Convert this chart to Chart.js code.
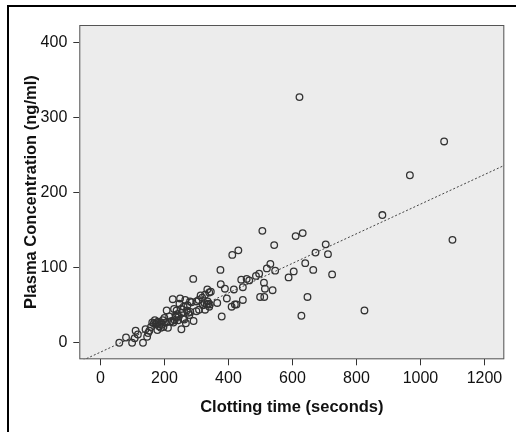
<!DOCTYPE html>
<html>
<head>
<meta charset="utf-8">
<script src="https://cdn.jsdelivr.net/npm/chart.js@4"></script>
<style>
  html, body { margin: 0; padding: 0; background: #fff; }
  #wrap { width: 520px; height: 432px; position: relative; }
</style>
</head>
<body>
<div id="wrap"><canvas id="chart" width="520" height="432"></canvas></div>
<script>
// clotting time (s) and plasma concentration (ng/ml)
const clotTime = [59, 80, 99, 107, 110, 117, 133, 141, 146, 149, 153, 158, 162, 167, 170, 172, 176, 178, 180, 183,
    186, 189, 190, 192, 195, 197, 200, 205, 207, 211, 215, 218, 223, 226, 228, 230, 232, 235, 236, 238,
    240, 243, 245, 247, 249, 252, 253, 254, 258, 260, 262, 265, 267, 270, 272, 275, 278, 280, 281, 285,
    291, 290, 300, 300, 307, 308, 313, 318, 320, 325, 327, 327, 332, 334, 335, 337, 340, 340, 342, 345,
    365, 375, 376, 379, 389, 395, 410, 412, 417, 420, 425, 431, 440, 445, 445, 457, 465, 486, 496, 499,
    506, 511, 512, 514, 520, 531, 538, 543, 546, 588, 604, 610, 622, 628, 632, 640, 647, 665, 672, 704,
    711, 724, 825, 881, 967, 1074, 1100];
const plasmaConc = [0, 7, 0, 6, 16, 11, 0, 18, 8, 13, 16, 21, 27, 26, 30, 25, 27, 17, 28, 22,
    25, 20, 27, 24, 30, 21, 33, 27, 43, 20, 35, 28, 29, 58, 27, 45, 30, 36, 34, 43,
    38, 30, 35, 52, 59, 45, 18, 40, 32, 48, 31, 57, 26, 43, 50, 40, 37, 55, 41, 54,
    29, 85, 42, 55, 57, 44, 63, 60, 50, 53, 44, 64, 51, 71, 55, 52, 48, 67, 51, 68,
    53, 97, 78, 35, 72, 59, 48, 117, 71, 51, 51, 123, 84, 74, 57, 85, 83, 89, 92, 61,
    149, 80, 61, 72, 99, 105, 70, 130, 96, 87, 95, 142, 327, 36, 146, 106, 61, 97, 120, 131,
    118, 91, 43, 170, 223, 268, 137];

// linear fit drawn as dotted line
const fitIntercept = -12.5;
const fitSlope = 0.197;
const xTicks = [0, 200, 400, 600, 800, 1000, 1200];
const yTicks = [0, 100, 200, 300, 400];
const xMin = -66, xMax = 1262, yMin = -22, yMax = 423;

const points = clotTime.map((t, i) => ({ x: t, y: plasmaConc[i] }));
const fitLine = [xMin, xMax].map(t => ({ x: t, y: fitIntercept + fitSlope * t }));

const frame = {
    id: 'frame',
    beforeDraw(chart) {
        const c = chart.ctx, a = chart.chartArea;
        c.save();
        c.fillStyle = '#ececec';
        c.fillRect(a.left, a.top, a.right - a.left, a.bottom - a.top);
        c.fillStyle = '#000';
        c.fillRect(7, 5, 509, 2);
        c.fillRect(7, 5, 2, 427);
        c.restore();
    },
    afterDraw(chart) {
        const c = chart.ctx, a = chart.chartArea;
        c.save();
        c.strokeStyle = '#555';
        c.lineWidth = 1;
        c.strokeRect(a.left + 0.5, a.top + 0.5, a.right - a.left - 1, a.bottom - a.top - 1);
        c.restore();
    }
};

const tickFont = { family: 'Liberation Sans, Arial, sans-serif', size: 16 };
const titleFont = { family: 'Liberation Sans, Arial, sans-serif', size: 16.5, weight: 'bold' };

new Chart(document.getElementById('chart'), {
    type: 'scatter',
    data: {
        datasets: [
            {
                data: points,
                pointStyle: 'circle',
                pointRadius: 3.3,
                pointBorderWidth: 1.3,
                pointBorderColor: '#333',
                pointBackgroundColor: 'rgba(0,0,0,0)',
                order: 1
            },
            {
                type: 'line',
                data: fitLine,
                borderColor: '#444',
                borderWidth: 1,
                borderDash: [2, 2],
                pointRadius: 0,
                fill: false,
                order: 2
            }
        ]
    },
    options: {
        responsive: false,
        animation: false,
        layout: { padding: { left: 8, top: 25, right: 15.7, bottom: 0 } },
        plugins: { legend: { display: false }, tooltip: { enabled: false } },
        scales: {
            x: {
                type: 'linear',
                min: xMin,
                max: xMax,
                afterBuildTicks: s => { s.ticks = xTicks.map(v => ({ value: v })); },
                afterFit: s => { s.height = 432 - 359.3; },
                grid: { drawOnChartArea: false, drawTicks: true, tickLength: 6, tickColor: '#333' },
                border: { display: false },
                ticks: { font: tickFont, color: '#111', padding: 4, maxRotation: 0, callback: v => String(v) },
                title: { display: true, text: 'Clotting time (seconds)', font: titleFont, color: '#111', padding: { top: 0, bottom: 15 } }
            },
            y: {
                type: 'linear',
                min: yMin,
                max: yMax,
                afterBuildTicks: s => { s.ticks = yTicks.map(v => ({ value: v })); },
                afterFit: s => { s.width = 79.3 - 8; },
                grid: { drawOnChartArea: false, drawTicks: true, tickLength: 6, tickColor: '#333' },
                border: { display: false },
                ticks: { font: tickFont, color: '#111', padding: 6, callback: v => String(v) },
                title: { display: true, text: 'Plasma Concentration (ng/ml)', font: titleFont, color: '#111', padding: { top: 14 } }
            }
        }
    },
    plugins: [frame]
});
</script>
</body>
</html>
